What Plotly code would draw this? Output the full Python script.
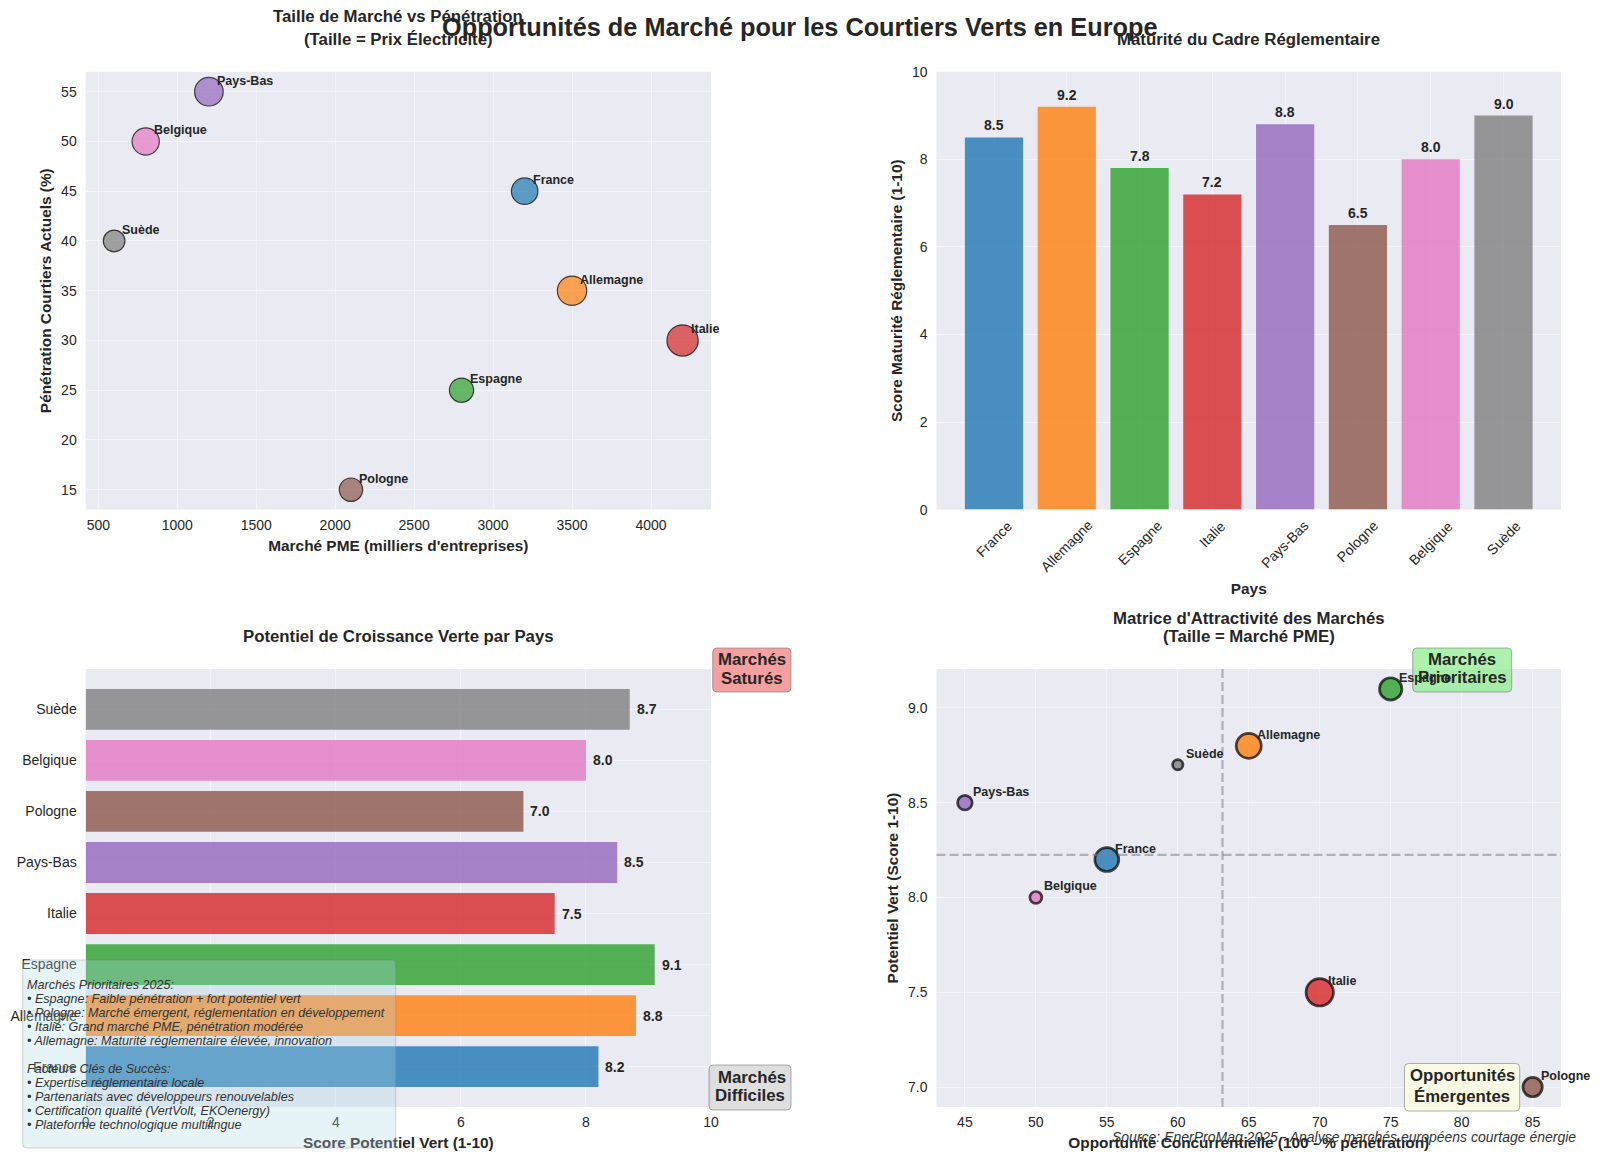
import plotly.graph_objects as go

W = 1600
H = 1161

pays = ["France", "Allemagne", "Espagne", "Italie", "Pays-Bas", "Pologne", "Belgique", "Suède"]
couleurs = ["#1f77b4", "#ff7f0e", "#2ca02c", "#d62728", "#9467bd", "#8c564b", "#e377c2", "#7f7f7f"]
marche_pme = [3200, 3500, 2800, 4200, 1200, 2100, 800, 600]
penetration = [45, 35, 25, 30, 55, 15, 50, 40]
prix_elec = [0.18, 0.22, 0.15, 0.25, 0.21, 0.14, 0.19, 0.12]
maturite = [8.5, 9.2, 7.8, 7.2, 8.8, 6.5, 8.0, 9.0]
potentiel = [8.2, 8.8, 9.1, 7.5, 8.5, 7.0, 8.0, 8.7]
opportunite = [55, 65, 75, 70, 45, 85, 50, 60]
seuil_x = 63.15
seuil_y = 8.225

texte_encadre = [
    "Marchés Prioritaires 2025:",
    "• Espagne: Faible pénétration + fort potentiel vert",
    "• Pologne: Marché émergent, réglementation en développement",
    "• Italie: Grand marché PME, pénétration modérée",
    "• Allemagne: Maturité réglementaire élevée, innovation",
    "",
    "Facteurs Clés de Succès:",
    "• Expertise réglementaire locale",
    "• Partenariats avec développeurs renouvelables",
    "• Certification qualité (VertVolt, EKOenergy)",
    "• Plateforme technologique multilingue",
]

FONT = "Liberation Sans"
SOMBRE = "#262626"


def rgba(hex_col, a):
    r, g, b = int(hex_col[1:3], 16), int(hex_col[3:5], 16), int(hex_col[5:7], 16)
    return f"rgba({r},{g},{b},{a})"


def px(x):
    return x / W


def py(y):
    return 1 - y / H


def texte(txt, x, y, size, bold=True, italic=False, color=SOMBRE, anchor="center"):
    if bold:
        txt = f"<b>{txt}</b>"
    if italic:
        txt = f"<i>{txt}</i>"
    return dict(text=txt, x=px(x), y=py(y), xref="paper", yref="paper", showarrow=False,
                xanchor=anchor, yanchor="middle", font=dict(family=FONT, size=size, color=color))


def boite(x0, y0, x1, y1, fill, line, r=4):
    # rectangle arrondi en coordonnees page
    rx, ry = r / W, r / H
    a, b, c, d = px(x0), py(y0), px(x1), py(y1)
    path = (f"M {a+rx} {b} L {c-rx} {b} Q {c} {b} {c} {b-ry} L {c} {d+ry} Q {c} {d} {c-rx} {d} "
            f"L {a+rx} {d} Q {a} {d} {a} {d+ry} L {a} {b-ry} Q {a} {b} {a+rx} {b} Z")
    return dict(type="path", path=path, xref="paper", yref="paper", fillcolor=fill,
                line=dict(color=line, width=1), layer="above")


fig = go.Figure()

# 1 - taille de marche vs penetration
fig.add_trace(go.Scatter(
    x=marche_pme, y=penetration, mode="markers", xaxis="x", yaxis="y", showlegend=False,
    marker=dict(size=prix_elec, sizemode="area", sizeref=0.000512, opacity=1,
                color=[rgba(c, 0.7) for c in couleurs],
                line=dict(color="rgba(0,0,0,0.7)", width=1.2))))

# 2 - maturite reglementaire
fig.add_trace(go.Bar(x=pays, y=maturite, xaxis="x2", yaxis="y2", width=0.8, showlegend=False,
                     marker=dict(color=couleurs, opacity=0.8, line=dict(width=0))))

# 3 - potentiel vert
fig.add_trace(go.Bar(x=potentiel, y=pays, orientation="h", xaxis="x3", yaxis="y3", width=0.8,
                     showlegend=False, marker=dict(color=couleurs, opacity=0.8, line=dict(width=0))))

# 4 - matrice
fig.add_trace(go.Scatter(
    x=opportunite, y=potentiel, mode="markers", xaxis="x4", yaxis="y4", showlegend=False,
    marker=dict(size=marche_pme, sizemode="area", sizeref=11.2, opacity=1,
                color=[rgba(c, 0.8) for c in couleurs],
                line=dict(color="rgba(0,0,0,0.7)", width=2.7))))

annots = []
for i, nom in enumerate(pays):
    annots.append(dict(text=f"<b>{nom}</b>", x=marche_pme[i], y=penetration[i], xref="x", yref="y",
                       showarrow=False, xanchor="left", yanchor="middle", xshift=6, yshift=11,
                       font=dict(family=FONT, size=12.5, color=SOMBRE)))
    annots.append(dict(text=f"<b>{nom}</b>", x=opportunite[i], y=potentiel[i], xref="x4", yref="y4",
                       showarrow=False, xanchor="left", yanchor="middle", xshift=6, yshift=11,
                       font=dict(family=FONT, size=12.5, color=SOMBRE)))
    annots.append(dict(text=f"<b>{maturite[i]:.1f}</b>", x=nom, y=maturite[i], xref="x2", yref="y2",
                       showarrow=False, xanchor="center", yanchor="bottom", yshift=2,
                       font=dict(family=FONT, size=14, color=SOMBRE)))
    annots.append(dict(text=f"<b>{potentiel[i]:.1f}</b>", x=potentiel[i], y=nom, xref="x3", yref="y3",
                       showarrow=False, xanchor="left", yanchor="middle", xshift=5,
                       font=dict(family=FONT, size=14, color=SOMBRE)))
    # etiquettes pivotees, centrees sous la barre
    annots.append(dict(text=nom, x=nom, y=0, xref="x2", yref="y2", showarrow=False, textangle=-45,
                       xanchor="center", yanchor="top", yshift=-5,
                       font=dict(family=FONT, size=14, color=SOMBRE)))

# titres
annots += [
    texte("Opportunités de Marché pour les Courtiers Verts en Europe", 800, 27, 25.3),
    texte("Taille de Marché vs Pénétration", 398, 17, 16.8),
    texte("(Taille = Prix Électricité)", 398, 39, 16.8),
    texte("Maturité du Cadre Réglementaire", 1248, 39, 16.8),
    texte("Potentiel de Croissance Verte par Pays", 398, 636, 16.8),
    texte("Matrice d'Attractivité des Marchés", 1249, 618, 16.8),
    texte("(Taille = Marché PME)", 1249, 636, 16.8),
    texte("Source: EnerProMag 2025 - Analyse marchés européens courtage énergie", 1578, 1137, 14,
          bold=False, italic=True, color="#333333", anchor="right"),
]

shapes = [
    dict(type="line", xref="x4", yref="y4 domain", x0=seuil_x, x1=seuil_x, y0=0, y1=1,
         line=dict(color="rgba(128,128,128,0.55)", width=2.2, dash="9px,4px")),
    dict(type="line", xref="x4 domain", yref="y4", x0=0, x1=1, y0=seuil_y, y1=seuil_y,
         line=dict(color="rgba(128,128,128,0.55)", width=2.2, dash="9px,4px")),
    boite(712.7, 648, 791, 692, "rgba(240,128,128,0.75)", "rgba(120,120,120,0.6)"),
    boite(709, 1065, 791, 1110, "rgba(211,211,211,0.75)", "rgba(120,120,120,0.6)"),
    boite(1412.7, 648, 1511.7, 692, "rgba(144,238,144,0.75)", "rgba(120,120,120,0.6)"),
    boite(1404.5, 1063.5, 1519.7, 1111, "rgba(255,255,224,0.75)", "rgba(120,120,120,0.6)"),
    boite(22.7, 960, 395.7, 1148, "rgba(173,216,230,0.3)", "rgba(120,120,120,0.3)"),
]

for txt, x, y in [("Marchés", 752, 659), ("Saturés", 752, 678),
                  ("Marchés", 752, 1077), ("Difficiles", 750, 1095),
                  ("Marchés", 1462, 659), ("Prioritaires", 1462, 677),
                  ("Opportunités", 1462, 1075), ("Émergentes", 1462, 1096)]:
    annots.append(texte(txt, x, y, 16.8))

for i, ligne in enumerate(texte_encadre):
    if ligne:
        annots.append(texte(ligne, 25, 984.5 + 14 * i, 12.6, bold=False, italic=True,
                            color="#333333", anchor="left"))

tick_font = dict(family=FONT, size=14, color=SOMBRE)
titre_font = dict(family=FONT, size=15.4, color=SOMBRE)


def axe(domain, titre, anchor, standoff, **kw):
    return dict(domain=domain, anchor=anchor, title=dict(text=f"<b>{titre}</b>", font=titre_font, standoff=standoff),
                showgrid=True, gridcolor="rgba(255,255,255,0.45)", gridwidth=1, zeroline=False,
                showline=False, ticks="", tickfont=tick_font, **kw)


dx1 = [px(85.7), px(711)]
dx2 = [px(936.5), px(1561)]
dy1 = [py(509.6), py(71.8)]
dy2 = [py(1107), py(669)]

# la partie gauche du titre passe sous l'encadre dans l'original
titre_score = '<span style="color:#545a5e">Score Potent</span>iel Vert (1-10)'

fig.update_layout(
    width=W, height=H, margin=dict(l=0, r=0, t=0, b=0, pad=0, autoexpand=False),
    paper_bgcolor="white", plot_bgcolor="#EAEAF2",
    font=dict(family=FONT, color=SOMBRE),
    xaxis=axe(dx1, "Marché PME (milliers d'entreprises)", "y", 8, range=[420, 4380], ticklabelstandoff=5,
              tickvals=[500, 1000, 1500, 2000, 2500, 3000, 3500, 4000]),
    yaxis=axe(dy1, "Pénétration Courtiers Actuels (%)", "x", 5, range=[13, 57], ticklabelstandoff=8,
              tickvals=[15, 20, 25, 30, 35, 40, 45, 50, 55]),
    xaxis2=axe(dx2, "Pays", "y2", 73, range=[-0.79, 7.79], showticklabels=False),
    yaxis2=axe(dy1, "Score Maturité Réglementaire (1-10)", "x2", 5, range=[0, 10], ticklabelstandoff=8,
               tickvals=[0, 2, 4, 6, 8, 10]),
    xaxis3=axe(dx1, titre_score, "y3", 8, range=[0, 10], ticklabelstandoff=5,
               tickvals=[0, 2, 4, 6, 8, 10]),
    yaxis3=axe(dy2, "", "x3", 5, range=[-0.79, 7.79], ticklabelstandoff=8),
    xaxis4=axe(dx2, "Opportunité Concurrentielle (100 - % pénétration)", "y4", 8, range=[43, 87], ticklabelstandoff=5,
               tickvals=[45, 50, 55, 60, 65, 70, 75, 80, 85]),
    yaxis4=axe(dy2, "Potentiel Vert (Score 1-10)", "x4", 5, range=[6.895, 9.205], ticklabelstandoff=8,
               tickvals=[7, 7.5, 8, 8.5, 9], tickformat=".1f"),
    annotations=annots, shapes=shapes,
)

fig.write_html("out.html", config=dict(displayModeBar=False), post_script="document.body.style.margin='0';")
